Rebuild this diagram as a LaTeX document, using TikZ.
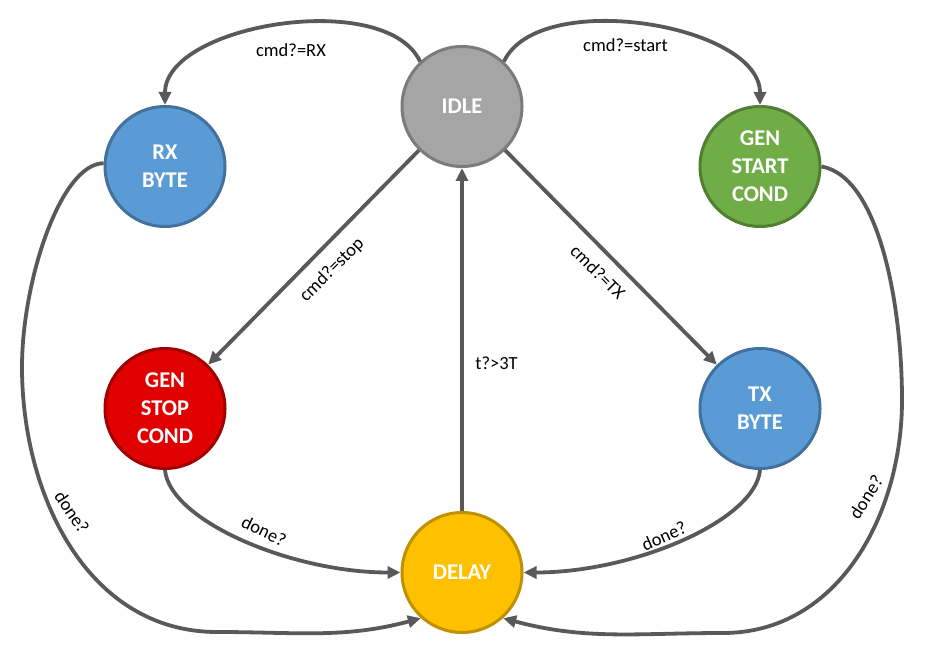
\documentclass[tikz,border=0pt]{standalone}
\usepackage{fontspec}
\setmainfont{Carlito}
\usetikzlibrary{arrows.meta}
\definecolor{idlefill}{HTML}{A5A5A5}
\definecolor{idleline}{HTML}{7B7B7B}
\definecolor{bytefill}{HTML}{5B9BD5}
\definecolor{byteline}{HTML}{41719C}
\definecolor{startfill}{HTML}{70AD47}
\definecolor{startline}{HTML}{507E32}
\definecolor{stopfill}{HTML}{E00000}
\definecolor{stopline}{HTML}{A00000}
\definecolor{delayfill}{HTML}{FFC000}
\definecolor{delayline}{HTML}{BF9000}
\definecolor{edgegray}{HTML}{595959}
\begin{document}
\begin{tikzpicture}[x=1pt,y=1pt,
  state/.style={circle,minimum size=120pt,inner sep=0pt,line width=3pt,
    align=center,text=white,font=\fontsize{22.5}{28}\selectfont\bfseries},
  trans/.style={draw=edgegray,line width=3.8pt,-{Triangle[length=13pt,width=12pt]}},
  lbl/.style={font=\fontsize{18.5}{22}\selectfont,inner sep=0pt}]
  \useasboundingbox (0,0) rectangle (933,667);
  % states
  \node[state,fill=idlefill,draw=idleline] (idle) at (462,560.5) {IDLE};
  \node[state,fill=bytefill,draw=byteline] (rx) at (165,500.5) {RX\\BYTE};
  \node[state,fill=startfill,draw=startline] (start) at (760,500.5) {GEN\\START\\COND};
  \node[state,fill=stopfill,draw=stopline] (stop) at (165,258.5) {GEN\\STOP\\COND};
  \node[state,fill=bytefill,draw=byteline] (tx) at (760,258.5) {TX\\BYTE};
  \node[state,fill=delayfill,draw=delayline] (delay) at (462,94.5) {DELAY};
  % way points of the long returns
  \coordinate (rxturn) at (22,300);
  \coordinate (rxlow) at (217,35);
  \coordinate (startturn) at (902,267);
  \coordinate (startlow) at (723,34);
  % out of idle
  \draw[trans] (idle.133) to[out=115,in=90,looseness=0.8] (rx.north);
  \draw[trans] (idle.47) to[out=65,in=90,looseness=0.8] (start.north);
  \draw[trans] (idle) -- (stop);
  \draw[trans] (idle) -- (tx);
  \draw[trans] (delay) -- (idle);
  % back to delay
  \draw[trans] (stop.south) to[out=-85,in=180,out looseness=0.5,in looseness=1.1] (delay.west);
  \draw[trans] (tx.south) to[out=-95,in=0,out looseness=0.5,in looseness=1.1] (delay.east);
  \draw[trans] (rx.177) to[out=180,in=90,out looseness=0.5] (rxturn)
    to[out=-90,in=180] (rxlow) to[out=0,in=195] (delay.228);
  \draw[trans] (start.east) to[out=-10,in=90,out looseness=0.6] (startturn)
    to[out=-90,in=0] (startlow) to[out=180,in=-15] (delay.312);
  % labels
  \node[lbl] (lrx) at (291,617) {cmd?=RX};
  \node[lbl] (lstart) at (625.5,621.5) {cmd?=start};
  \node[lbl,rotate=45] (lstop) at (332,397) {cmd?=stop};
  \node[lbl,rotate=-45] (ltx) at (598,395) {cmd?=TX};
  \node[lbl] (ltime) at (496.5,303.5) {t?>3T};
  \node[lbl,rotate=-26] (ldstop) at (264,136) {done?};
  \node[lbl,rotate=24] (ldtx) at (664,131) {done?};
  \node[lbl,rotate=-56] (ldrx) at (72,155) {done?};
  \node[lbl,rotate=57] (ldstart) at (866,170) {done?};
\end{tikzpicture}
\end{document}
